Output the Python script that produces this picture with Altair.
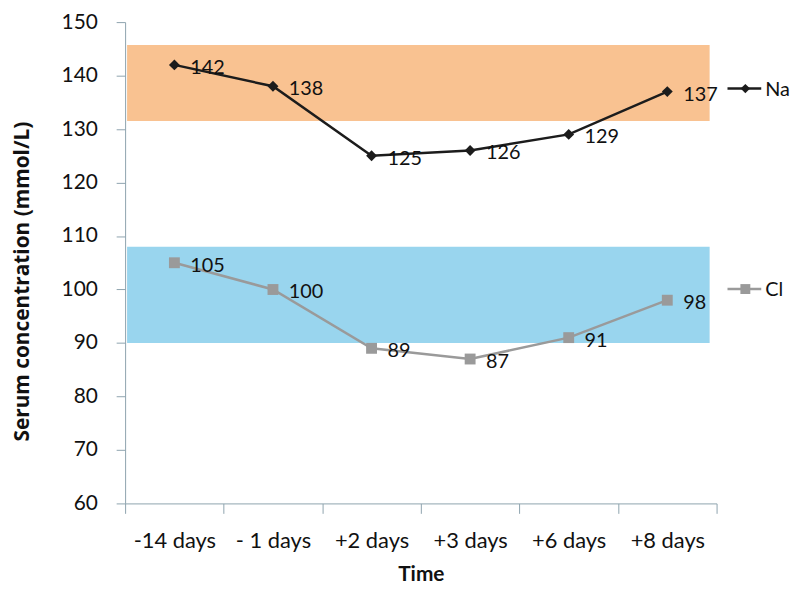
import altair as alt
import pandas as pd

categories = ["-14 days", "- 1 days", "+2 days", "+3 days", "+6 days", "+8 days"]
na_values = [142, 138, 125, 126, 129, 137]
cl_values = [105, 100, 89, 87, 91, 98]
band_series = ["Na", "Cl"]
band_low = [131.5, 90]
band_high = [145.7, 108]
band_colors = ["#F9C291", "#99D5EE"]

FONT = "Lato"
W, H = 596, 485

df = pd.DataFrame({
    "time": categories * 2,
    "value": na_values + cl_values,
    "series": ["Na"] * len(categories) + ["Cl"] * len(categories),
})
bands = pd.DataFrame({"series": band_series, "lo": band_low, "hi": band_high, "color": band_colors})

x_enc = alt.X("time:N", sort=categories,
              scale=alt.Scale(domain=categories, paddingInner=0, paddingOuter=0),
              axis=alt.Axis(title="Time", tickBand="extent", labelAngle=0,
                            labelFontSize=22, labelPadding=17, tickSize=10,
                            titleFontSize=21, titleFontWeight="bold", titlePadding=13,
                            labelColor="#111", titleColor="#111",
                            domainColor="#8ea3ae", tickColor="#8ea3ae", grid=False))
y_scale = alt.Scale(domain=[60, 150], nice=False, zero=False)
y_axis = alt.Axis(title="Serum concentration (mmol/L)", values=list(range(60, 151, 10)),
                  labelFontSize=21, labelPadding=19, tickSize=9,
                  titleFontSize=21, titleFontWeight="bold", titleFont="Open Sans",
                  titleX=-103, titleY=261, titleAngle=-90,
                  titleAlign="center", titleBaseline="middle",
                  labelColor="#111", titleColor="#111",
                  domainColor="#8ea3ae", tickColor="#8ea3ae", grid=False)
y_enc = alt.Y("value:Q", scale=y_scale, axis=y_axis)

band_layer = alt.Chart(bands).mark_rect(opacity=1).encode(
    x=alt.value(2), x2=alt.value(589),
    y=alt.Y("lo:Q", scale=y_scale, axis=y_axis), y2="hi:Q",
    color=alt.Color("color:N", scale=None),
)

base = alt.Chart(df)
style = alt.Color("series:N", scale=alt.Scale(domain=["Na", "Cl"], range=["#1c1c1c", "#9a9a9a"]), legend=None)
shape = alt.Shape("series:N", scale=alt.Scale(domain=["Na", "Cl"], range=["diamond", "square"]), legend=None)

lines = base.mark_line(strokeWidth=2.5).encode(x=x_enc, y=y_enc, color=style, detail="series:N")
points = base.mark_point(filled=True, opacity=1, size=120).encode(
    x=x_enc, y=y_enc, color=style, shape=shape)
labels = base.mark_text(align="left", baseline="middle", dx=16, dy=3, fontSize=20,
                        font=FONT, color="#111").encode(
    x=x_enc, y=y_enc, text="value:Q")

one = pd.DataFrame({"a": [0]})
def legend_item(name, ypix, color, shp, size):
    r = alt.Chart(one).mark_rule(color=color, strokeWidth=2.5).encode(
        x=alt.value(607), x2=alt.value(641), y=alt.value(ypix))
    p = alt.Chart(one).mark_point(filled=True, opacity=1, color=color, shape=shp, size=size).encode(
        x=alt.value(625), y=alt.value(ypix))
    t = alt.Chart(one).mark_text(align="left", baseline="middle", fontSize=20, font=FONT,
                                 color="#111", text=name).encode(
        x=alt.value(645), y=alt.value(ypix + 1))
    return r + p + t

chart = alt.layer(
    band_layer, lines, points, labels,
    legend_item("Na", 67, "#1c1c1c", "diamond", 90),
    legend_item("Cl", 269, "#9a9a9a", "square", 100),
).properties(
    width=W, height=H,
    autosize=alt.AutoSizeParams(type="none"),
    padding={"left": 118, "top": 12, "right": 76, "bottom": 80},
).configure(font=FONT).configure_view(stroke=None)

chart.save("out.html", embed_options={"renderer": "svg", "actions": False})
